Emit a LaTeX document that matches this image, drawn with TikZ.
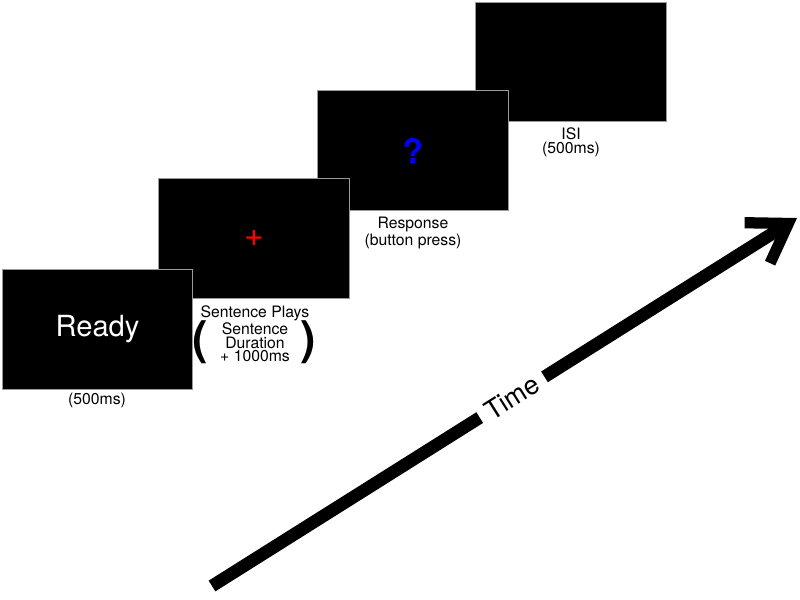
\documentclass[tikz,border=0pt]{standalone}
\usepackage{fontspec}
\setmainfont{TeX Gyre Heros}
\usetikzlibrary{arrows.meta}

\begin{document}
\begin{tikzpicture}[x=0.025cm,y=-0.025cm,
  screen/.style={draw=gray!80,line width=0.7pt,fill=black,inner sep=0pt,
    minimum width=4.75cm,minimum height=2.975cm},
  caption/.style={align=center,inner sep=0pt,
    font=\fontsize{11.2}{9.8}\selectfont},
  paren/.style={inner sep=0pt,font=\fontsize{33}{33}\selectfont\bfseries}]
  \useasboundingbox (0,0) rectangle (800,599);

  % screens, drawn back to front
  \node[screen] (isi)   at (571,62)    {};
  \node[screen] (resp)  at (413,150.5) {};
  \node[screen] (fix)   at (254,238.5) {};
  \node[screen] (ready) at (97.5,329.5) {};

  % what each screen shows
  \node[white,font=\fontsize{20.7}{20.7}\selectfont] (readytxt) at (ready) {Ready};
  \node[red,font=\fontsize{24}{24}\selectfont] (cross) at (fix) {+};
  \node[blue,font=\fontsize{24}{24}\selectfont\bfseries] (qmark) at (resp) {?};

  % captions under the screens
  \node[caption] (readylbl) at (97,400.5) {(500ms)};
  \node[caption] (sentlbl)  at (255,334) {Sentence Plays\\Sentence\\Duration\\+ 1000ms};
  \node[paren]   (lpar)     at (200,342) {(};
  \node[paren]   (rpar)     at (308.5,342) {)};
  \node[caption] (resplbl)  at (413,233) {Response\\(button press)};
  \node[caption] (isilbl)   at (571,142) {ISI\\(500ms)};

  % time axis
  \coordinate (tstart) at (212,586);
  \coordinate (tend)   at (797,218);
  \draw[line width=9pt,-{Straight Barb[length=26pt,width=34pt,line width=8pt]}]
    (tstart) -- (tend)
    node[pos=0.513,sloped,fill=white,inner xsep=6pt,inner ysep=2pt,
      font=\fontsize{19}{19}\selectfont] (timelbl) {Time};
\end{tikzpicture}
\end{document}
